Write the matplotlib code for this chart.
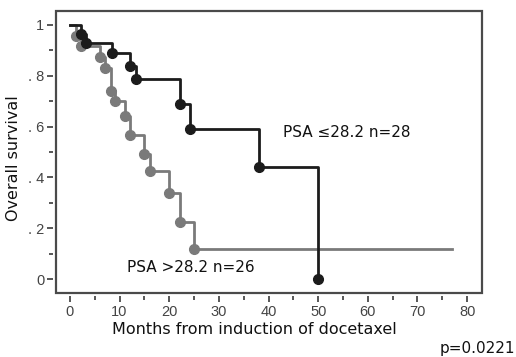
import matplotlib
matplotlib.use("Agg")
import matplotlib.pyplot as plt
from matplotlib.patches import Rectangle
from matplotlib.ticker import MultipleLocator, FixedLocator

# Kaplan-Meier steps: time of each drop and survival after it
low_t = [0, 2.3, 3.3, 8.4, 12.2, 13.3, 22.2, 24.1, 38.0, 50.0]
low_s = [1.0, 0.965, 0.928, 0.889, 0.84, 0.786, 0.688, 0.59, 0.44, 0.0]
low_label = "PSA \u226428.2 n=28"

high_t = [0, 1.2, 2.2, 6.0, 7.1, 8.3, 9.1, 11.1, 12.1, 15.0, 16.2, 20.0, 22.2, 25.0]
high_s = [1.0, 0.957, 0.917, 0.874, 0.83, 0.742, 0.70, 0.64, 0.565, 0.492, 0.424, 0.34, 0.225, 0.12]
high_end = 77
high_label = "PSA >28.2 n=26"

ytick_vals = [0, 0.2, 0.4, 0.6, 0.8, 1.0]
ytick_text = ["0", ". 2", ". 4", ". 6", ". 8", "1"]
xtick_vals = [0, 10, 20, 30, 40, 50, 60, 70, 80]
p_text = "p=0.0221"

black = "#1c1c1c"
grey = "#7a7a7a"
frame = "#4a4a4a"

fig = plt.figure(figsize=(5.16, 3.57), dpi=100)
ax = fig.add_axes([56 / 516, 1 - 293 / 357, 426 / 516, 282 / 357])

# grey group, flat tail to the last follow-up
ax.step(high_t + [high_end], high_s + [high_s[-1]], where="post", color=grey, lw=2.0, zorder=2)
ax.plot(high_t[1:], high_s[1:], "o", color=grey, ms=7, mec=grey, zorder=3)

# black group
ax.step(low_t, low_s, where="post", color=black, lw=2.0, zorder=4)
ax.plot(low_t[1:], low_s[1:], "o", color=black, ms=7, mec=black, zorder=5)

ax.set_xlim(-2.8, 83.0)
ax.set_ylim(-0.055, 1.055)

# ticks sit just off the frame
for side in ["left", "bottom"]:
    ax.spines[side].set_position(("outward", 2.5))
    ax.spines[side].set_visible(False)
for side in ["top", "right"]:
    ax.spines[side].set_visible(False)
ax.add_patch(Rectangle((0, 0), 1, 1, transform=ax.transAxes, fill=False,
                       ec=frame, lw=1.6, clip_on=False, zorder=6))

ax.xaxis.set_major_locator(FixedLocator(xtick_vals))
ax.xaxis.set_minor_locator(MultipleLocator(5))
ax.yaxis.set_major_locator(FixedLocator(ytick_vals))
ax.yaxis.set_minor_locator(MultipleLocator(0.1))
ax.set_yticklabels(ytick_text)
for lab in ax.get_xticklabels() + ax.get_yticklabels():
    lab.set_family("Liberation Sans")
    lab.set_fontsize(10.5)
    lab.set_color("#444444")
ax.tick_params(which="both", direction="out", color=frame, width=1.3)
ax.tick_params(which="major", length=4, pad=2)
ax.tick_params(which="minor", length=3)

ax.text(42.9, 0.575, low_label, fontsize=11, color="#111111", va="center")
ax.text(11.5, 0.047, high_label, fontsize=11, color="#111111", va="center")

fig.text(254 / 516, 1 - 329 / 357, "Months from induction of docetaxel",
         fontsize=11.5, ha="center", va="center", color="#111111")
fig.text(14 / 516, 1 - 158 / 357, "Overall survival", fontsize=11.5,
         rotation=90, ha="center", va="center", color="#111111")
fig.text(515 / 516, 1 - 348 / 357, p_text, fontsize=11, ha="right",
         va="center", color="#111111")

fig.savefig("out.png", dpi=100)
